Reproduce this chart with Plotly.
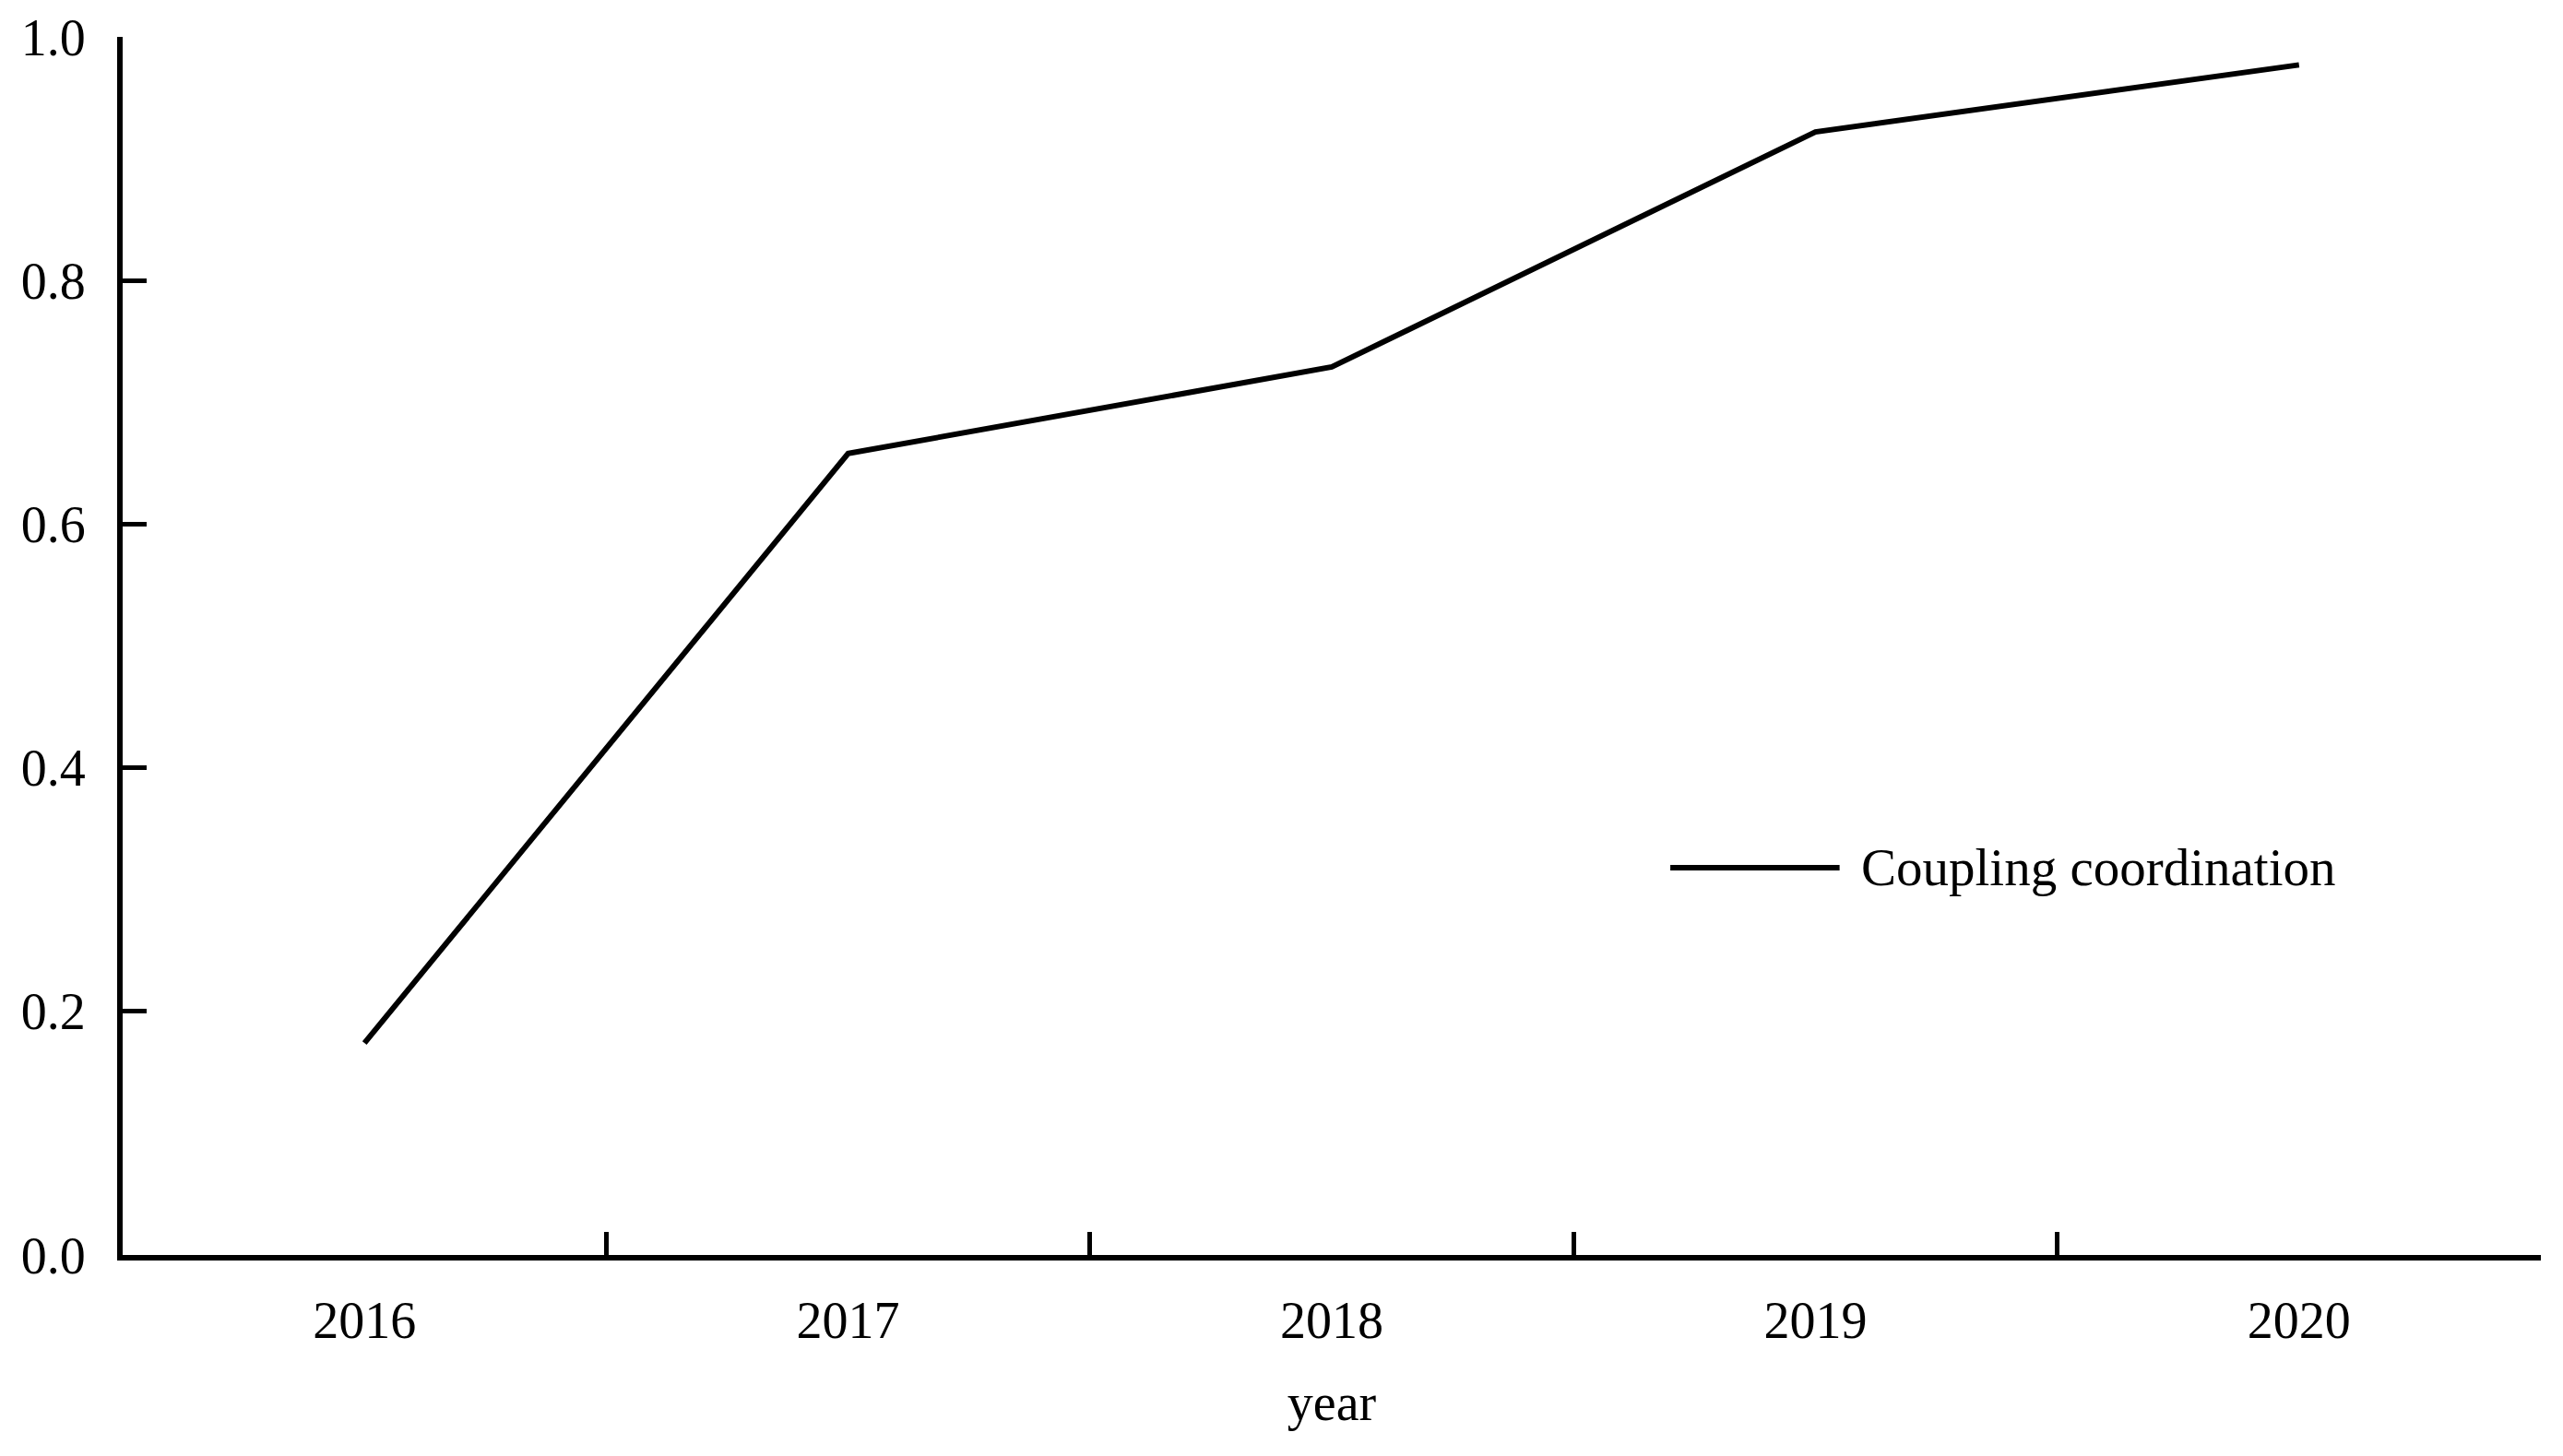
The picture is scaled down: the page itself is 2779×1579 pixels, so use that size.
import plotly.graph_objects as go

years = ["2016", "2017", "2018", "2019", "2020"]
coupling = [0.174, 0.658, 0.729, 0.922, 0.977]
y_ticks = [0.0, 0.2, 0.4, 0.6, 0.8, 1.0]
y_tick_labels = ["0.0", "0.2", "0.4", "0.6", "0.8", "1.0"]
series_name = "Coupling coordination"

FONT = "Liberation Serif, Times New Roman, serif"

fig = go.Figure()
fig.add_trace(go.Scatter(
    x=years, y=coupling, mode="lines", name=series_name,
    line=dict(color="black", width=6), showlegend=False,
))

# legend drawn manually to match the long legend line of the original
fig.add_shape(type="line", xref="paper", yref="paper",
              x0=0.640, x1=0.710, y0=0.318, y1=0.318,
              line=dict(color="black", width=6))
fig.add_annotation(xref="paper", yref="paper", x=0.718, y=0.318,
                   xanchor="left", yanchor="middle", showarrow=False,
                   text=series_name, font=dict(family=FONT, size=57, color="black"))

fig.update_layout(
    width=2779, height=1579,
    margin=dict(l=125, r=32, t=32, b=226),
    paper_bgcolor="white", plot_bgcolor="white",
    font=dict(family=FONT, size=56, color="black"),
)
fig.update_xaxes(
    type="category", range=[-0.5, 4.5], automargin=False,
    showline=True, linecolor="black", linewidth=6,
    ticks="inside", tickson="boundaries", ticklen=25, tickwidth=5, tickcolor="black",
    showgrid=False, zeroline=False,
    ticklabelstandoff=17,
    title=dict(text="year", font=dict(family=FONT, size=56, color="black"), standoff=41),
)
fig.update_yaxes(
    range=[0, 1], tickmode="array", tickvals=y_ticks, ticktext=y_tick_labels,
    automargin=False,
    showline=True, linecolor="black", linewidth=6,
    ticks="inside", ticklen=26, tickwidth=5, tickcolor="black",
    showgrid=False, zeroline=False,
    ticklabelstandoff=23,
)

fig.write_html("out.html")
